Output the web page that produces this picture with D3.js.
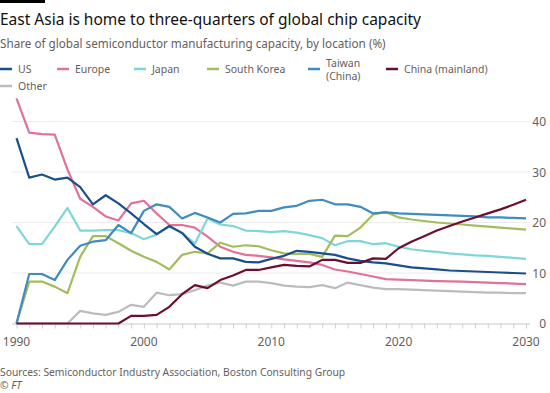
<!DOCTYPE html>
<html>
<head>
<meta charset="utf-8">
<script src="https://cdn.jsdelivr.net/npm/d3@7"></script>
<style>
body { margin: 0; background: #fff; }
svg { display: block; font-family: "Noto Sans", sans-serif; }
</style>
</head>
<body>
<svg id="chart" width="550" height="393"></svg>
<script>
var years = d3.range(1990, 2031);
var yTicks = [0, 10, 20, 30, 40];
var xTicks = [1990, 2000, 2010, 2020, 2030];

var us = [36.7, 28.9, 29.5, 28.5, 28.9, 27.0, 23.6, 25.4, 23.8, 21.8, 19.7, 17.7, 19.3, 17.9, 15.2, 13.8, 12.9, 12.9, 12.2, 12.1, 12.8,
	13.4, 14.4, 14.2, 13.9, 13.6, 12.9, 12.4, 12.1, 11.9, 11.5, 11.1, 10.9, 10.7, 10.5, 10.4, 10.3, 10.2, 10.1, 10.0, 9.9];
var europe = [44.6, 37.8, 37.5, 37.4, 30.5, 24.7, 23.1, 21.2, 20.4, 23.8, 24.3, 21.8, 19.5, 19.5, 19.0, 17.2, 15.2, 14.2, 13.6, 13.4, 13.1,
	12.7, 12.4, 12.1, 11.6, 10.7, 10.3, 9.8, 9.3, 8.8, 8.7, 8.6, 8.5, 8.4, 8.35, 8.3, 8.2, 8.1, 8.0, 7.9, 7.8];
var japan = [19.3, 15.7, 15.7, 19.2, 22.9, 18.4, 18.4, 18.5, 18.5, 17.9, 16.7, 17.6, 19.2, 18.0, 15.8, 20.8, 19.6, 19.3, 18.4, 18.3, 18.1,
	18.3, 18.0, 17.5, 16.9, 15.5, 16.3, 16.3, 15.7, 15.9, 15.2, 14.7, 14.4, 14.2, 13.9, 13.7, 13.5, 13.4, 13.2, 13.0, 12.8];
var southKorea = [0, 8.3, 8.3, 7.3, 6.0, 13.2, 17.3, 17.3, 15.9, 14.4, 13.2, 12.2, 10.7, 13.6, 14.2, 13.9, 16.0, 15.2, 15.5, 15.3, 14.5,
	13.9, 13.8, 13.8, 13.2, 17.4, 17.3, 19.0, 21.6, 22.1, 21.0, 20.6, 20.3, 20.0, 19.8, 19.6, 19.4, 19.2, 19.0, 18.8, 18.6];
var taiwan = [0, 9.8, 9.8, 8.6, 12.6, 15.4, 16.2, 16.5, 19.5, 17.9, 22.3, 23.6, 23.1, 20.8, 21.9, 21.0, 20.0, 21.7, 21.8, 22.3, 22.3,
	23.0, 23.3, 24.3, 24.5, 23.6, 23.6, 23.1, 21.8, 22.0, 21.8, 21.7, 21.6, 21.5, 21.4, 21.3, 21.2, 21.0, 21.0, 20.9, 20.8];
var china = [0, 0, 0, 0, 0, 0, 0, 0, 0, 1.5, 1.5, 1.7, 3.3, 5.8, 7.6, 7.0, 8.6, 9.5, 10.6, 10.6, 11.1,
	11.6, 11.4, 11.3, 12.6, 12.6, 12.0, 12.0, 12.9, 12.8, 14.9, 16.2, 17.3, 18.4, 19.3, 20.2, 21.0, 21.8, 22.6, 23.5, 24.5];
var other = [0, 0, 0, 0, 0, 2.5, 2.0, 1.7, 2.3, 3.7, 3.3, 6.1, 5.6, 5.8, 6.6, 7.5, 8.1, 7.5, 8.3, 8.3, 8.0,
	7.5, 7.3, 7.2, 7.6, 7.0, 8.1, 7.6, 7.1, 6.8, 6.8, 6.7, 6.6, 6.5, 6.4, 6.3, 6.2, 6.1, 6.1, 6.0, 6.0];

var series = [
	{name: ["Other"], values: other, color: "#bcbcbc"},
	{name: ["Europe"], values: europe, color: "#e0719a"},
	{name: ["Japan"], values: japan, color: "#7fd6d7"},
	{name: ["South Korea"], values: southKorea, color: "#a3bc5c"},
	{name: ["Taiwan", "(China)"], values: taiwan, color: "#3f8bc2"},
	{name: ["US"], values: us, color: "#1b4f8a"},
	{name: ["China (mainland)"], values: china, color: "#6c0d32"}
];

var svg = d3.select("#chart");
var grey = "#66605c";

// FT rule
svg.append("rect").attr("x", 0).attr("y", 0).attr("width", 45).attr("height", 3).attr("fill", "#000");

svg.append("text").attr("x", 0).attr("y", 25)
	.style("font-size", "15.5px").attr("fill", "#111")
	.text("East Asia is home to three-quarters of global chip capacity");
svg.append("text").attr("x", 0).attr("y", 47.5)
	.style("font-size", "11.7px").attr("fill", grey)
	.text("Share of global semiconductor manufacturing capacity, by location (%)");

// legend
var legendItems = [
	{s: series[5], x: 0, y: 69},
	{s: series[1], x: 57, y: 69},
	{s: series[2], x: 134, y: 69},
	{s: series[3], x: 207, y: 69},
	{s: series[4], x: 308, y: 69},
	{s: series[6], x: 386, y: 69},
	{s: series[0], x: 0, y: 86}
];
var lg = svg.append("g");
legendItems.forEach(function(d) {
	lg.append("line")
		.attr("x1", d.x).attr("x2", d.x + 12)
		.attr("y1", d.y).attr("y2", d.y)
		.attr("stroke", d.s.color).attr("stroke-width", 2.5);
	var t = lg.append("text").attr("x", d.x + 18)
		.style("font-size", "10.5px").attr("fill", grey);
	if(d.s.name.length === 1) {
		t.attr("y", d.y + 4).text(d.s.name[0]);
	} else {
		d.s.name.forEach(function(n, i) {
			t.append("tspan").attr("x", d.x + 18).attr("y", d.y - 2 + i * 12.5).text(n);
		});
	}
});

var x = d3.scaleLinear().domain([1990, 2030]).range([16.5, 526]);
var y = d3.scaleLinear().domain([0, 40]).range([323.5, 121.5]);

// gridlines
svg.append("g").selectAll("line")
	.data(yTicks.filter(d => d > 0))
	.enter().append("line")
	.attr("x1", 12).attr("x2", 530)
	.attr("y1", d => y(d)).attr("y2", d => y(d))
	.attr("stroke", "#ebebeb").attr("stroke-width", 1);

svg.append("g").selectAll("text")
	.data(yTicks)
	.enter().append("text")
	.attr("x", 546).attr("y", d => y(d) + 4.5)
	.attr("text-anchor", "end")
	.style("font-size", "12px").attr("fill", grey)
	.text(d => d);

// x axis
var xAxis = d3.axisBottom(x)
	.tickValues(years)
	.tickSize(5)
	.tickFormat("");
var xg = svg.append("g").attr("transform", "translate(0," + y(0) + ")").call(xAxis);
xg.select(".domain").attr("stroke", "#c8c8c8").attr("d", "M12,0.5H530");
xg.selectAll(".tick line").attr("stroke", "#d0d0d0");

svg.append("g").selectAll("text")
	.data(xTicks)
	.enter().append("text")
	.attr("x", d => x(d)).attr("y", 346)
	.attr("text-anchor", "middle")
	.style("font-size", "12px").attr("fill", grey)
	.text(d => d);

var line = d3.line()
	.x((d, i) => x(years[i]))
	.y(d => y(d));

svg.append("g").selectAll("path")
	.data(series)
	.enter().append("path")
	.attr("d", d => line(d.values))
	.attr("fill", "none")
	.attr("stroke", d => d.color)
	.attr("stroke-width", 2.2)
	.attr("stroke-linejoin", "round");

svg.append("text").attr("x", 0).attr("y", 376)
	.style("font-size", "10.3px").attr("fill", grey)
	.text("Sources: Semiconductor Industry Association, Boston Consulting Group");
svg.append("text").attr("x", 0).attr("y", 389)
	.style("font-size", "10.3px").style("font-style", "italic").attr("fill", grey)
	.text("© FT");
</script>
</body>
</html>
